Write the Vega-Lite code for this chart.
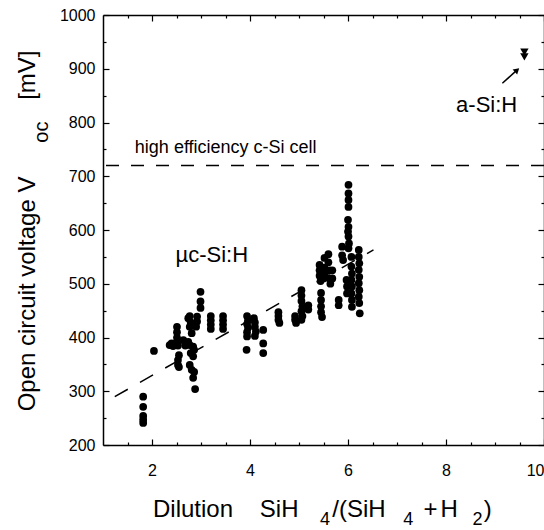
{
  "$schema": "https://vega.github.io/schema/vega-lite/v6.json",
  "width": 441,
  "height": 430,
  "autosize": {"type": "none"},
  "padding": {"left": 103, "top": 15, "right": 0, "bottom": 85},
  "config": {
    "view": {"stroke": null},
    "font": "Liberation Sans",
    "axis": {"grid": false, "domainColor": "black", "domainWidth": 1.5, "tickColor": "black", "tickWidth": 1.2, "labelColor": "black", "labelFont": "Liberation Sans", "labelFontSize": 16, "format": "d"}
  },
  "datasets": {
    "points": [
      {"x":1.82,"y":290},{"x":1.82,"y":271},{"x":1.82,"y":254},{"x":1.82,"y":247},{"x":1.82,"y":241},
      {"x":2.04,"y":375},
      {"x":2.36,"y":386},{"x":2.40,"y":389},{"x":2.43,"y":384},
      {"x":2.51,"y":420},{"x":2.51,"y":410},{"x":2.51,"y":400},{"x":2.51,"y":392},{"x":2.53,"y":385},{"x":2.55,"y":367},{"x":2.53,"y":358},{"x":2.53,"y":349},{"x":2.55,"y":345},
      {"x":2.64,"y":395},{"x":2.68,"y":385},
      {"x":2.74,"y":436},{"x":2.77,"y":440},{"x":2.79,"y":428},{"x":2.77,"y":420},{"x":2.81,"y":408},{"x":2.74,"y":392},{"x":2.77,"y":386},{"x":2.84,"y":383},{"x":2.86,"y":377},{"x":2.79,"y":371},{"x":2.84,"y":365},{"x":2.77,"y":349},{"x":2.81,"y":340},{"x":2.86,"y":336},{"x":2.84,"y":325},{"x":2.88,"y":304},
      {"x":2.99,"y":485},{"x":2.99,"y":467},{"x":2.99,"y":455},{"x":2.92,"y":439},{"x":2.92,"y":430},{"x":2.90,"y":420},
      {"x":3.2,"y":440},{"x":3.2,"y":432},{"x":3.2,"y":424},{"x":3.2,"y":416},
      {"x":3.45,"y":440},{"x":3.45,"y":432},{"x":3.45,"y":424},{"x":3.45,"y":416},
      {"x":3.94,"y":440},{"x":3.96,"y":432},{"x":3.94,"y":425},{"x":3.96,"y":418},{"x":3.94,"y":410},{"x":3.94,"y":402},{"x":3.93,"y":377},
      {"x":4.08,"y":436},{"x":4.10,"y":428},{"x":4.10,"y":420},{"x":4.12,"y":411},{"x":4.10,"y":403},
      {"x":4.27,"y":414},{"x":4.27,"y":389},{"x":4.27,"y":371},
      {"x":4.58,"y":447},{"x":4.58,"y":440},{"x":4.58,"y":433},{"x":4.60,"y":427},
      {"x":4.92,"y":440},{"x":4.92,"y":433},{"x":4.94,"y":427},
      {"x":5.05,"y":488},{"x":5.05,"y":478},{"x":5.05,"y":468},{"x":5.07,"y":458},{"x":5.05,"y":449},{"x":5.07,"y":440},{"x":5.05,"y":433},
      {"x":5.19,"y":460},{"x":5.19,"y":452},
      {"x":5.42,"y":535},{"x":5.42,"y":525},{"x":5.42,"y":515},{"x":5.44,"y":505},{"x":5.45,"y":483},{"x":5.45,"y":470},{"x":5.45,"y":458},{"x":5.45,"y":447},{"x":5.47,"y":438},
      {"x":5.52,"y":548},{"x":5.52,"y":530},{"x":5.52,"y":520},{"x":5.50,"y":510},
      {"x":5.60,"y":555},{"x":5.60,"y":540},{"x":5.62,"y":525},{"x":5.62,"y":510},{"x":5.64,"y":500},
      {"x":5.68,"y":525},{"x":5.68,"y":510},
      {"x":5.81,"y":470},{"x":5.81,"y":460},
      {"x":5.88,"y":569},{"x":5.88,"y":553},{"x":5.90,"y":544},
      {"x":6.01,"y":684},{"x":6.01,"y":668},{"x":6.01,"y":656},{"x":6.01,"y":643},{"x":6.00,"y":619},{"x":6.01,"y":606},{"x":6.00,"y":597},{"x":6.01,"y":588},{"x":6.02,"y":575},{"x":6.01,"y":566},
      {"x":6.07,"y":550},{"x":6.07,"y":532},{"x":6.08,"y":519},{"x":6.07,"y":507},{"x":6.08,"y":495},{"x":6.07,"y":482},{"x":6.08,"y":470},{"x":6.08,"y":457},
      {"x":5.97,"y":507},{"x":5.98,"y":495},{"x":5.98,"y":482},
      {"x":6.22,"y":563},{"x":6.22,"y":550},{"x":6.23,"y":538},{"x":6.22,"y":526},{"x":6.23,"y":513},{"x":6.22,"y":501},{"x":6.23,"y":488},{"x":6.22,"y":476},{"x":6.23,"y":464},{"x":6.24,"y":445}
    ],
    "hline": [{"y": 720}],
    "trend": [{"x": 1.24, "y": 290}, {"x": 6.52, "y": 563}],
    "asi": [{"x": 9.6, "y": 931}, {"x": 9.6, "y": 922}],
    "arrow": [{"x": 9.15, "y": 873}, {"x": 9.43, "y": 896}],
    "arrowhead": [{"x": 9.45, "y": 897.5}],
    "annot_big": [{"x": 3.22, "y": 540.5, "text": "µc-Si:H"}, {"x": 8.83, "y": 819.5, "text": "a-Si:H"}],
    "annot_small": [{"x": 1.65, "y": 743.3, "text": "high efficiency c-Si cell"}],
    "xtitle_main": [
      {"x": 2.02, "y": 66, "text": "Dilution"},
      {"x": 4.20, "y": 66, "text": "SiH"},
      {"x": 5.68, "y": 66, "text": "/(SiH"},
      {"x": 7.54, "y": 66, "text": "+"},
      {"x": 7.89, "y": 66, "text": "H"},
      {"x": 8.77, "y": 66, "text": ")"}
    ],
    "xtitle_sub": [
      {"x": 5.43, "y": 52, "text": "4"},
      {"x": 7.13, "y": 52, "text": "4"},
      {"x": 8.54, "y": 52, "text": "2"}
    ],
    "ytitle_main": [
      {"x": -0.397, "y": 481, "text": "Open circuit voltage V"},
      {"x": -0.397, "y": 888, "text": "[mV]"}
    ],
    "ytitle_sub": [{"x": -0.13, "y": 782, "text": "oc"}]
  },
  "layer": [
    {
      "data": {"name": "points"},
      "mark": {"type": "circle", "color": "black", "opacity": 1, "size": 60},
      "encoding": {
        "x": {"field": "x", "type": "quantitative", "scale": {"domain": [1, 10], "nice": false, "zero": false},
              "axis": {"orient": "bottom", "values": [2, 4, 6, 8, 10], "tickSize": -6, "labelPadding": 23, "title": null}},
        "y": {"field": "y", "type": "quantitative", "scale": {"domain": [200, 1000], "nice": false, "zero": false},
              "axis": {"orient": "left", "values": [200, 300, 400, 500, 600, 700, 800, 900, 1000], "tickSize": -6, "labelPadding": 14, "title": null}}
      }
    },
    {
      "data": {"name": "hline"},
      "mark": {"type": "rule", "color": "black", "strokeWidth": 1.5, "strokeDash": [13, 12]},
      "encoding": {
        "y": {"field": "y", "type": "quantitative", "scale": {"domain": [200, 1000], "nice": false, "zero": false}, "axis": null}
      }
    },
    {
      "data": {"name": "trend"},
      "mark": {"type": "line", "color": "black", "strokeWidth": 1.5, "strokeDash": [15, 14]},
      "encoding": {
        "x": {"field": "x", "type": "quantitative", "scale": {"domain": [1, 10], "nice": false, "zero": false},
              "axis": {"orient": "bottom", "values": [1.5, 2.5, 3, 3.5, 4.5, 5, 5.5, 6.5, 7, 7.5, 8.5, 9, 9.5], "tickSize": -3, "labels": false, "domain": false, "title": null}},
        "y": {"field": "y", "type": "quantitative", "scale": {"domain": [200, 1000], "nice": false, "zero": false},
              "axis": {"orient": "left", "values": [250, 350, 450, 550, 650, 750, 850, 950], "tickSize": -3, "labels": false, "domain": false, "title": null}}
      }
    },
    {
      "data": {"name": "asi"},
      "mark": {"type": "point", "shape": "triangle-down", "filled": true, "color": "black", "opacity": 1, "size": 70},
      "encoding": {
        "x": {"field": "x", "type": "quantitative", "scale": {"domain": [1, 10], "nice": false, "zero": false},
              "axis": {"orient": "top", "values": [2, 4, 6, 8, 10], "tickSize": -6, "labels": false, "title": null}},
        "y": {"field": "y", "type": "quantitative", "scale": {"domain": [200, 1000], "nice": false, "zero": false},
              "axis": {"orient": "right", "values": [200, 300, 400, 500, 600, 700, 800, 900, 1000], "tickSize": -6, "labels": false, "title": null}}
      }
    },
    {
      "data": {"name": "arrow"},
      "mark": {"type": "line", "color": "black", "strokeWidth": 1.5},
      "encoding": {
        "x": {"field": "x", "type": "quantitative", "scale": {"domain": [1, 10], "nice": false, "zero": false},
              "axis": {"orient": "top", "values": [1.5, 2.5, 3, 3.5, 4.5, 5, 5.5, 6.5, 7, 7.5, 8.5, 9, 9.5], "tickSize": -3, "labels": false, "domain": false, "title": null}},
        "y": {"field": "y", "type": "quantitative", "scale": {"domain": [200, 1000], "nice": false, "zero": false},
              "axis": {"orient": "right", "values": [250, 350, 450, 550, 650, 750, 850, 950], "tickSize": -3, "labels": false, "domain": false, "title": null}}
      }
    },
    {
      "data": {"name": "arrowhead"},
      "mark": {"type": "point", "shape": "triangle-up", "filled": true, "color": "black", "opacity": 1, "size": 45, "angle": 48},
      "encoding": {
        "x": {"field": "x", "type": "quantitative", "scale": {"domain": [1, 10], "nice": false, "zero": false}, "axis": null},
        "y": {"field": "y", "type": "quantitative", "scale": {"domain": [200, 1000], "nice": false, "zero": false}, "axis": null}
      }
    },
    {
      "data": {"name": "annot_big"},
      "mark": {"type": "text", "font": "Liberation Sans", "fontSize": 22, "align": "center", "baseline": "alphabetic", "color": "black"},
      "encoding": {
        "x": {"field": "x", "type": "quantitative", "scale": {"domain": [1, 10], "nice": false, "zero": false}, "axis": null},
        "y": {"field": "y", "type": "quantitative", "scale": {"domain": [200, 1000], "nice": false, "zero": false}, "axis": null},
        "text": {"field": "text"}
      }
    },
    {
      "data": {"name": "annot_small"},
      "mark": {"type": "text", "font": "Liberation Sans", "fontSize": 18, "align": "left", "baseline": "alphabetic", "color": "black"},
      "encoding": {
        "x": {"field": "x", "type": "quantitative", "scale": {"domain": [1, 10], "nice": false, "zero": false}, "axis": null},
        "y": {"field": "y", "type": "quantitative", "scale": {"domain": [200, 1000], "nice": false, "zero": false}, "axis": null},
        "text": {"field": "text"}
      }
    },
    {
      "data": {"name": "xtitle_main"},
      "mark": {"type": "text", "font": "Liberation Sans", "fontSize": 24, "align": "left", "baseline": "alphabetic", "color": "black"},
      "encoding": {
        "x": {"field": "x", "type": "quantitative", "scale": {"domain": [1, 10], "nice": false, "zero": false}, "axis": null},
        "y": {"field": "y", "type": "quantitative", "scale": {"domain": [200, 1000], "nice": false, "zero": false}, "axis": null},
        "text": {"field": "text"}
      }
    },
    {
      "data": {"name": "xtitle_sub"},
      "mark": {"type": "text", "font": "Liberation Sans", "fontSize": 18, "align": "left", "baseline": "alphabetic", "color": "black"},
      "encoding": {
        "x": {"field": "x", "type": "quantitative", "scale": {"domain": [1, 10], "nice": false, "zero": false}, "axis": null},
        "y": {"field": "y", "type": "quantitative", "scale": {"domain": [200, 1000], "nice": false, "zero": false}, "axis": null},
        "text": {"field": "text"}
      }
    },
    {
      "data": {"name": "ytitle_main"},
      "mark": {"type": "text", "font": "Liberation Sans", "fontSize": 24, "align": "center", "baseline": "alphabetic", "angle": 270, "color": "black"},
      "encoding": {
        "x": {"field": "x", "type": "quantitative", "scale": {"domain": [1, 10], "nice": false, "zero": false}, "axis": null},
        "y": {"field": "y", "type": "quantitative", "scale": {"domain": [200, 1000], "nice": false, "zero": false}, "axis": null},
        "text": {"field": "text"}
      }
    },
    {
      "data": {"name": "ytitle_sub"},
      "mark": {"type": "text", "font": "Liberation Sans", "fontSize": 20, "align": "center", "baseline": "alphabetic", "angle": 270, "color": "black"},
      "encoding": {
        "x": {"field": "x", "type": "quantitative", "scale": {"domain": [1, 10], "nice": false, "zero": false}, "axis": null},
        "y": {"field": "y", "type": "quantitative", "scale": {"domain": [200, 1000], "nice": false, "zero": false}, "axis": null},
        "text": {"field": "text"}
      }
    }
  ],
  "resolve": {"axis": {"x": "independent", "y": "independent"}}
}
